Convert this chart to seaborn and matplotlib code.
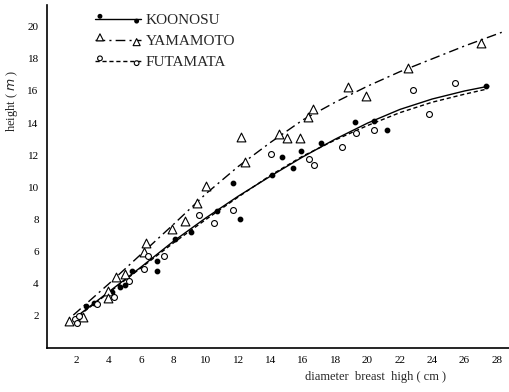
import numpy as np
import pandas as pd
import matplotlib
matplotlib.use("Agg")
import matplotlib.pyplot as plt
from matplotlib.legend_handler import HandlerTuple
import seaborn as sns

# observed trees (diameter cm, height m)
koonosu_d = [2.6, 3.1, 4.2, 4.7, 5.0, 5.4, 7.0, 7.0, 8.1, 9.1, 10.7, 11.7, 12.1,
             14.1, 14.7, 15.4, 15.9, 17.1, 19.2, 20.4, 21.2, 27.3]
koonosu_h = [2.6, 2.8, 3.5, 3.8, 3.9, 4.8, 4.8, 5.4, 6.8, 7.25, 8.5, 10.3, 8.05,
             10.75, 11.9, 11.2, 12.25, 12.75, 14.05, 14.1, 13.6, 16.3]

yamamoto_d = [1.55, 2.4, 3.95, 3.95, 4.45, 5.0, 6.2, 6.3, 7.9, 8.7, 9.45, 10.0,
              12.2, 12.45, 14.5, 15.0, 15.85, 16.3, 16.6, 18.8, 19.9, 22.5, 27.0]
yamamoto_h = [1.7, 1.9, 3.55, 3.1, 4.45, 4.6, 6.0, 6.55, 7.4, 7.9, 9.05, 10.1,
              13.15, 11.6, 13.3, 13.05, 13.05, 14.4, 14.9, 16.25, 15.7, 17.4, 19.0]

futamata_d = [1.9, 2.0, 2.15, 3.25, 4.3, 5.25, 6.2, 6.4, 7.4, 9.6, 10.5, 11.7,
              14.0, 16.4, 16.7, 18.4, 19.3, 20.4, 22.8, 23.8, 25.4]
futamata_h = [1.8, 1.55, 2.0, 2.75, 3.2, 4.2, 4.9, 5.7, 5.75, 8.25, 7.8, 8.6,
              12.05, 11.75, 11.4, 12.5, 13.4, 13.6, 16.05, 14.55, 16.5]

# fitted height curves
koonosu_cx = [1.8, 4, 6, 8, 10, 12, 14, 16, 18, 20, 22, 24, 26, 27.5]
koonosu_cy = [1.8, 3.5, 5.05, 6.65, 8.1, 9.45, 10.7, 11.9, 13.0, 14.0, 14.85, 15.5, 16.0, 16.3]

yamamoto_cx = [1.8, 4, 6, 8, 10, 12, 14, 16, 18, 20, 22, 24, 26, 28.3]
yamamoto_cy = [2.05, 4.0, 5.85, 7.7, 9.6, 11.3, 12.8, 14.2, 15.3, 16.3, 17.2, 18.0, 18.8, 19.65]

futamata_cx = [1.8, 4, 6, 8, 10, 12, 14, 16, 18, 20, 22, 24, 26, 27.3]
futamata_cy = [1.75, 3.45, 5.0, 6.55, 8.0, 9.4, 10.75, 11.95, 12.95, 13.85, 14.65, 15.3, 15.8, 16.1]

sites = ["KOONOSU", "YAMAMOTO", "FUTAMATA"]

pts = pd.concat([
    pd.DataFrame({"d": koonosu_d, "h": koonosu_h, "site": "KOONOSU"}),
    pd.DataFrame({"d": yamamoto_d, "h": yamamoto_h, "site": "YAMAMOTO"}),
    pd.DataFrame({"d": futamata_d, "h": futamata_h, "site": "FUTAMATA"}),
])
curves = pd.concat([
    pd.DataFrame({"d": koonosu_cx, "h": koonosu_cy, "site": "KOONOSU"}),
    pd.DataFrame({"d": yamamoto_cx, "h": yamamoto_cy, "site": "YAMAMOTO"}),
    pd.DataFrame({"d": futamata_cx, "h": futamata_cy, "site": "FUTAMATA"}),
])

sns.set_style("white")
plt.rcParams["font.family"] = ["Liberation Serif", "DejaVu Serif"]

fig = plt.figure(figsize=(5.09, 3.92), dpi=100)
ax = fig.add_axes([0.0923, 0.1122, 0.9077, 0.875])

line_styles = {"KOONOSU": "-", "YAMAMOTO": (0, (7, 3, 1.5, 3)), "FUTAMATA": (0, (3, 2))}
marker_kw = {
    "KOONOSU": dict(marker="o", s=10, facecolor="black", edgecolor="black"),
    "YAMAMOTO": dict(marker="^", s=40, facecolor="white", edgecolor="black", linewidth=0.8),
    "FUTAMATA": dict(marker="o", s=18, facecolor="white", edgecolor="black", linewidth=0.8),
}

handles = []
for site in sites:
    c = curves[curves["site"] == site]
    sns.lineplot(data=c, x="d", y="h", ax=ax, color="black", linewidth=1.0,
                 sort=False, estimator=None)
    ln = ax.lines[-1]
    ln.set_linestyle(line_styles[site])
    p = pts[pts["site"] == site]
    sc = ax.scatter(p["d"], p["h"], zorder=3, **marker_kw[site])
    handles.append((ln, sc))

ax.legend(handles, sites, handler_map={tuple: HandlerTuple(ndivide=1)},
          loc="upper left", bbox_to_anchor=(0.075, 1.015), frameon=False,
          scatterpoints=2, scatteryoffsets=[0.75, 0.3], handlelength=3.0,
          labelspacing=0.48, handletextpad=0.3, fontsize=11,
          markerscale=0.8)

ax.set_xlim(0.17, 28.75)
ax.set_ylim(0, 21.35)
ax.set_xticks(np.arange(2, 29, 2))
ax.set_yticks(np.arange(2, 21, 2))
ax.tick_params(direction="in", length=3, width=0.8, labelsize=8, colors="black", pad=6)
for side in ["top", "right"]:
    ax.spines[side].set_visible(False)
for side in ["left", "bottom"]:
    ax.spines[side].set_color("black")
    ax.spines[side].set_linewidth(1.2)

ax.set_ylabel("height ( $m$ )", fontsize=9)
ax.yaxis.set_label_coords(-0.058, 0.72)
ax.set_xlabel("diameter  breast  high ( cm )", fontsize=9)
ax.xaxis.set_label_coords(0.71, -0.068)

fig.savefig("out.png", dpi=100)
